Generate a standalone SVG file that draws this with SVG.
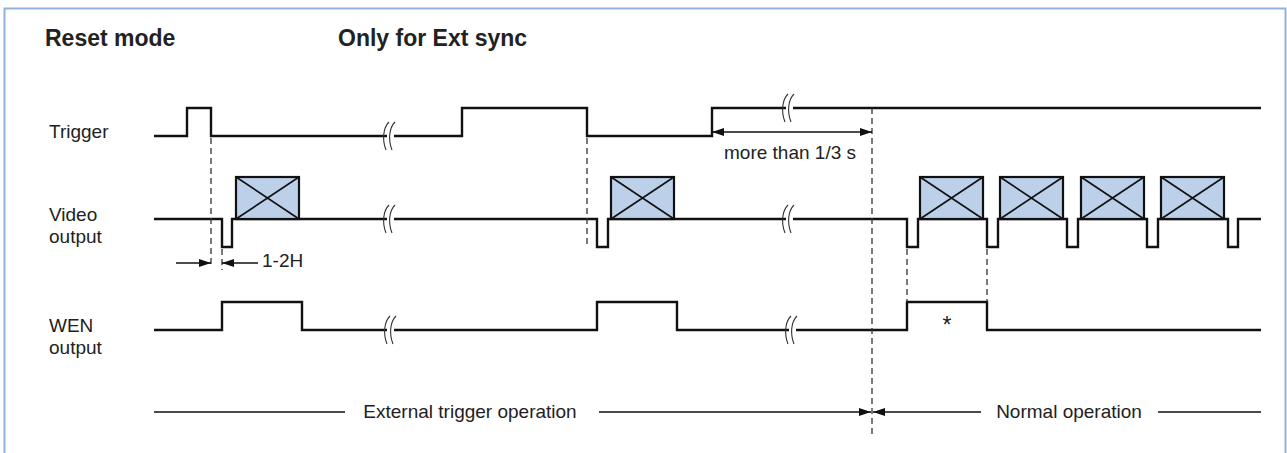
<svg xmlns="http://www.w3.org/2000/svg" width="1287" height="453" viewBox="0 0 1287 453">
<style>
.t{font-family:"Liberation Sans",Arial,sans-serif;font-size:19px;fill:#222}
.h{font-family:"Liberation Sans",Arial,sans-serif;font-size:23px;font-weight:bold;fill:#222}
.sig{fill:none;stroke:#111;stroke-width:2.4;stroke-linejoin:miter}
.brk{fill:none;stroke:#333;stroke-width:1.1}
.dash{fill:none;stroke:#333;stroke-width:1.3;stroke-dasharray:6,4}
.arr{fill:none;stroke:#111;stroke-width:1.5}
.box{fill:#bcd0ea;stroke:#111;stroke-width:2.2}
.x{stroke:#111;stroke-width:1.6}
</style>
<defs>
<marker id="ah" viewBox="0 0 12 8" refX="12" refY="4" markerWidth="12" markerHeight="8" orient="auto-start-reverse" markerUnits="userSpaceOnUse">
<path d="M0,0 L12,4 L0,8 z" fill="#111"/>
</marker>
<g id="brkSym">
<path class="brk" d="M4,-14 C-2,-8 -3,4 1,14"/>
<path class="brk" d="M10,-14 C4,-8 3,4 7,14"/>
</g>
<g id="vbox">
<rect class="box" x="0" y="0" width="63" height="42"/>
<path class="x" d="M0,0 L63,42 M63,0 L0,42"/>
</g>
</defs>
<rect x="4.5" y="8.5" width="1281" height="460" fill="#fff" stroke="#8fb3d9" stroke-width="2"/>

<g id="titles">
<text class="h" x="45" y="46">Reset mode</text>
<text class="h" x="338" y="46">Only for Ext sync</text>
</g>

<g id="label-trigger"><text class="t" x="49" y="138">Trigger</text></g>
<g id="label-video"><text class="t" x="49" y="221">Video</text><text class="t" x="49" y="243">output</text></g>
<g id="label-wen"><text class="t" x="49" y="332">WEN</text><text class="t" x="49" y="354">output</text></g>

<g id="trigger">
<path class="sig" d="M154,136 H187 V108 H211 V136 H387"/>
<path class="sig" d="M394,136 H462 V108 H587 V136 H712 V108 H786"/>
<path class="sig" d="M793,108 H1261"/>
<use href="#brkSym" x="385" y="136"/>
<use href="#brkSym" x="784" y="108"/>
</g>

<g id="video">
<path class="sig" d="M154,219 H222 V247 H232 V219 H387"/>
<path class="sig" d="M394,219 H597 V247 H608 V219 H786"/>
<path class="sig" d="M793,219 H907 V247 H918 V219 H987 V247 H998 V219 H1067 V247 H1078 V219 H1147 V247 H1158 V219 H1228 V247 H1238 V219 H1261"/>
<use href="#brkSym" x="385" y="219"/>
<use href="#brkSym" x="784" y="219"/>
<use href="#vbox" x="236" y="177"/>
<use href="#vbox" x="611" y="177"/>
<use href="#vbox" x="920" y="177"/>
<use href="#vbox" x="1000" y="177"/>
<use href="#vbox" x="1081" y="177"/>
<use href="#vbox" x="1161" y="177"/>
</g>

<g id="wen">
<path class="sig" d="M154,330 H222 V302 H302 V330 H387"/>
<path class="sig" d="M394,330 H597 V302 H677 V330 H789"/>
<path class="sig" d="M796,330 H907 V302 H987 V330 H1261"/>
<use href="#brkSym" x="386" y="330"/>
<use href="#brkSym" x="787" y="330"/>
<text class="t" x="947" y="333" text-anchor="middle" style="font-size:23px">*</text>
</g>

<g id="connectors">
<path class="dash" d="M211,138 V268"/>
<path class="dash" d="M222,249 V270"/>
<path class="dash" d="M587,138 V247"/>
<path class="dash" d="M872,108 V435"/>
<path class="dash" d="M907,249 V302"/>
<path class="dash" d="M987,249 V302"/>
<line class="arr" x1="176" y1="263" x2="211" y2="263" marker-end="url(#ah)"/>
<line class="arr" x1="258" y1="263" x2="222" y2="263" marker-end="url(#ah)"/>
<line class="arr" x1="712" y1="132" x2="872" y2="132" marker-start="url(#ah)" marker-end="url(#ah)"/>
<line class="arr" x1="154" y1="412" x2="345" y2="412"/>
<line class="arr" x1="599" y1="412" x2="871" y2="412" marker-end="url(#ah)"/>
<line class="arr" x1="981" y1="412" x2="873" y2="412" marker-end="url(#ah)"/>
<line class="arr" x1="1158" y1="412" x2="1261" y2="412"/>
</g>

<g id="annotations">
<text class="t" x="262" y="267">1-2H</text>
<text class="t" x="790" y="159" text-anchor="middle">more than 1/3 s</text>
<text class="t" x="470" y="418" text-anchor="middle">External trigger operation</text>
<text class="t" x="1069" y="418" text-anchor="middle">Normal operation</text>
</g>
</svg>
